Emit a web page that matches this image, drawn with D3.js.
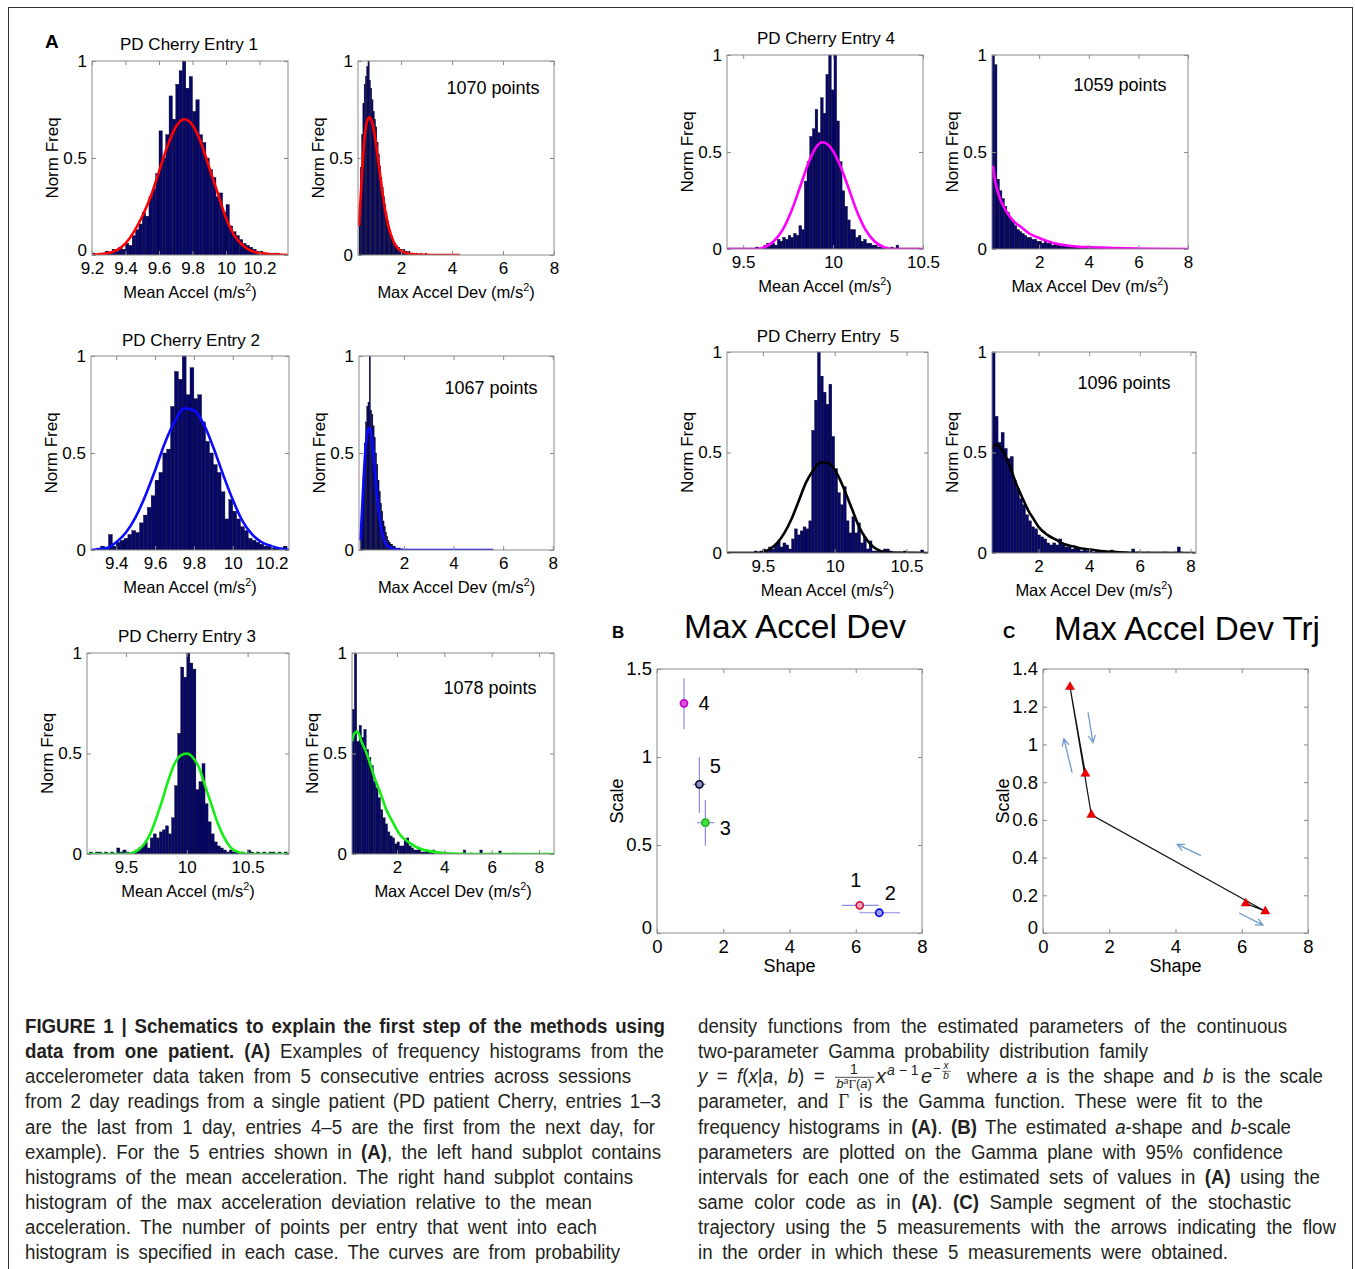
<!DOCTYPE html>
<html>
<head>
<meta charset="utf-8">
<script src="https://cdn.jsdelivr.net/npm/d3@7"></script>
<style>
  body { margin: 0; background: #fff; }
  svg text { font-family: "Liberation Sans", Arial, sans-serif; }
</style>
</head>
<body>
<svg id="fig" width="1355" height="1269"></svg>
<script>
// ---------- data ----------
// histograms: normalised frequency per bin, bin start + bin width
const e1MeanStart = 9.20, e1MeanStep = 0.02;
const e1MeanFreq = [0.01,0,0.01,0.01,0.02,0.01,0.03,0.02,0.04,0.03,
  0.06,0.05,0.10,0.13,0.16,0.22,0.20,0.30,0.34,0.42,
  0.64,0.50,0.62,0.82,0.70,0.88,0.95,1.00,0.86,0.92,
  0.74,0.80,0.62,0.58,0.50,0.44,0.40,0.30,0.32,0.22,
  0.26,0.15,0.12,0.10,0.08,0.06,0.05,0.04,0.03,0.02,
  0.02,0.01,0.01,0,0.01,0.01];
const e1DevStart = 0.35, e1DevStep = 0.05;
const e1DevFreq = [0.25,0.45,0.62,0.78,0.88,0.92,0.97,1.00,0.90,0.86,
  0.80,0.74,0.70,0.66,0.58,0.52,0.46,0.40,0.35,0.30,
  0.26,0.22,0.18,0.15,0.12,0.10,0.08,0.07,0.06,0.05,
  0.04,0.04,0.03,0.03,0.02,0.03,0.02,0.02,0.01,0.02,
  0.01,0.01,0.01,0.01,0,0.01,0,0,0.01,0,0,0,0.01];
const e2MeanStart = 9.30, e2MeanStep = 0.02;
const e2MeanFreq = [0.01,0.02,0.01,0.08,0.02,0.04,0.05,0.06,0.08,0.10,
  0.09,0.14,0.18,0.22,0.28,0.36,0.40,0.50,0.52,0.74,
  0.92,0.88,1.00,0.80,0.94,0.78,0.80,0.66,0.56,0.50,
  0.44,0.40,0.30,0.16,0.26,0.20,0.16,0.12,0.10,0.06,
  0.05,0.04,0.03,0.02,0.02,0.01,0.01,0,0.02];
const e2DevStart = 0.25, e2DevStep = 0.05;
const e2DevFreq = [0.05,0.20,0.38,0.55,0.66,0.74,0.76,1.00,0.72,0.70,
  0.64,0.58,0.50,0.44,0.36,0.30,0.24,0.20,0.15,0.12,
  0.09,0.07,0.05,0.04,0.03,0.03,0.02,0.02,0.01,0.01,
  0.01,0.01,0.005,0.005,0.005,0.005,0,0.005,0,0.003,0,0.003,0,0,0.003];
const e3MeanStart = 9.20, e3MeanStep = 0.025;
const e3MeanFreq = [0.01,0,0.01,0.01,0,0.01,0,0.01,0,0.03,
  0.01,0.02,0.01,0,0.01,0.02,0.03,0.04,0.06,0.03,
  0.08,0.10,0.08,0.11,0.12,0.14,0.10,0.18,0.34,0.60,
  0.93,0.88,1.00,0.95,0.92,0.32,0.36,0.45,0.25,0.16,
  0.10,0.06,0.04,0.03,0.02,0.01,0.02,0.01,0.01,0,
  0.01,0,0.02,0.01,0,0.01,0,0.01,0,0.01,
  0.01,0,0.01,0,0.01];
const e3DevStart = 0.10, e3DevStep = 0.1;
const e3DevFreq = [0.72,1.00,0.56,0.64,0.58,0.62,0.52,0.48,0.44,0.36,
  0.33,0.28,0.22,0.18,0.15,0.11,0.09,0.08,0.05,0.06,
  0.04,0.04,0.07,0.08,0.04,0.03,0.02,0.02,0.03,0.01,
  0.01,0.02,0.01,0.01,0.02,0,0.01,0.01,0,0.01,
  0,0.005,0,0.005,0,0,0.005,0.02,0,0,
  0.005,0,0,0,0.02,0,0,0,0.005,0,
  0,0,0.015,0,0,0,0,0,0.005,0];
const e4MeanStart = 9.42, e4MeanStep = 0.015;
const e4MeanFreq = [0.005,0.005,0.005,0.005,0.005,0.005,0.005,0.005,0.005,0.005,0.01,0.005,
  0.01,0.02,0.03,0.02,0.03,0.02,0.05,0.04,0.06,0.05,
  0.07,0.06,0.08,0.07,0.12,0.10,0.35,0.45,0.58,0.62,
  0.72,0.60,0.78,0.70,0.90,1.00,0.82,1.00,0.66,0.45,
  0.30,0.22,0.15,0.10,0.10,0.06,0.07,0.04,0.05,0.03,
  0.03,0.02,0.02,0.01,0.02,0.01,0.01,0.005,0.01,0.005,
  0.02,0.005,0.005,0.005,0.005,0.005,0.005,0.005,0.005];
const e4DevStart = 0.10, e4DevStep = 0.1;
const e4DevFreq = [1.00,0.95,0.36,0.30,0.26,0.22,0.19,0.16,0.14,0.12,
  0.10,0.09,0.08,0.07,0.06,0.06,0.05,0.05,0.04,0.04,
  0.03,0.04,0.03,0.03,0.02,0.03,0.02,0.02,0.02,0.02,
  0.015,0.015,0.01,0.015,0.01,0.01,0.01,0.01,0.008,0.01,
  0.005,0.008,0.005,0.005,0.006,0.004,0.005,0.004,0.004,0.003,
  0.004,0.003,0.003,0.003,0.002,0.003,0.002,0.003,0.002,0.002,
  0.004,0.002,0.002,0.002,0.001,0.002,0.001,0.002,0.001,0.001,
  0.001,0.001,0.001,0.001,0.001,0.001,0.001,0.001,0.001];
const e5MeanStart = 9.26, e5MeanStep = 0.02;
const e5MeanFreq = [0.005,0.005,0.005,0.005,0.005,0.005,0.005,0.005,0.005,0.01,
  0.005,0.01,0.02,0.01,0.03,0.02,0.04,0.06,0.03,0.05,
  0.04,0.02,0.07,0.12,0.09,0.11,0.13,0.12,0.16,0.61,
  0.76,1.00,0.88,0.80,0.74,0.84,0.58,0.42,0.30,0.24,
  0.33,0.16,0.10,0.18,0.10,0.15,0.05,0.08,0.02,0.06,
  0.01,0.01,0.01,0.005,0.02,0.02,0.01,0.005,0.005,0.005,
  0.005,0.01,0.005,0.005,0.005,0.005,0.005,0.015];
const e5DevStart = 0.16, e5DevStep = 0.12;
const e5DevFreq = [1.00,0.68,0.55,0.60,0.52,0.47,0.48,0.36,0.32,0.27,
  0.24,0.19,0.16,0.13,0.12,0.09,0.08,0.07,0.05,0.04,
  0.05,0.04,0.07,0.04,0.03,0.03,0.02,0.03,0.02,0.01,
  0.02,0.01,0.01,0.005,0.01,0.005,0.005,0.005,0.005,0.015,
  0.005,0,0.005,0,0.005,0,0.02,0,0.005,0,
  0,0.005,0,0,0,0,0.005,0.005,0,0,0.005,0.03,0.005];

// fitted curves as [x, normFreq]
const e1MeanFit = [[9.2,0],[9.3,0.01],[9.4,0.06],[9.5,0.2],[9.55,0.3],[9.6,0.43],[9.65,0.56],[9.7,0.66],[9.75,0.7],[9.8,0.67],[9.85,0.58],[9.9,0.45],[9.95,0.32],[10.0,0.19],[10.05,0.1],[10.1,0.05],[10.2,0.01],[10.37,0]];
const e1DevFit = [[0.35,0.15],[0.45,0.38],[0.55,0.58],[0.65,0.68],[0.75,0.71],[0.85,0.69],[0.95,0.63],[1.05,0.54],[1.15,0.44],[1.25,0.34],[1.35,0.25],[1.5,0.15],[1.7,0.07],[1.9,0.03],[2.2,0.01],[2.6,0.002],[3.2,0],[4.3,0]];
const e2MeanFit = [[9.27,0],[9.35,0.01],[9.4,0.04],[9.45,0.09],[9.5,0.17],[9.55,0.28],[9.6,0.41],[9.65,0.55],[9.7,0.66],[9.75,0.73],[9.8,0.72],[9.85,0.65],[9.9,0.53],[9.95,0.39],[10.0,0.26],[10.05,0.15],[10.1,0.08],[10.15,0.04],[10.2,0.02],[10.29,0]];
const e2DevFit = [[0.25,0.05],[0.35,0.3],[0.45,0.52],[0.55,0.62],[0.62,0.63],[0.7,0.58],[0.8,0.45],[0.9,0.3],[1.0,0.18],[1.1,0.1],[1.2,0.05],[1.35,0.02],[1.6,0.005],[2.0,0],[5.6,0]];
const e3MeanFit = [[9.18,0],[9.5,0],[9.55,0.005],[9.6,0.02],[9.65,0.05],[9.7,0.1],[9.75,0.18],[9.8,0.27],[9.85,0.37],[9.9,0.45],[9.95,0.49],[10.0,0.5],[10.05,0.48],[10.1,0.43],[10.15,0.34],[10.2,0.25],[10.25,0.16],[10.3,0.09],[10.35,0.04],[10.4,0.015],[10.45,0.005],[10.5,0],[10.84,0]];
const e3DevFit = [[0.1,0.56],[0.2,0.6],[0.32,0.61],[0.5,0.56],[0.75,0.49],[1.05,0.38],[1.34,0.29],[1.55,0.22],[1.77,0.17],[2.1,0.1],[2.5,0.058],[2.9,0.03],[3.23,0.018],[3.7,0.008],[4.3,0.002],[5,0],[8.63,0]];
const e4MeanFit = [[9.41,0],[9.58,0],[9.62,0.01],[9.67,0.04],[9.72,0.1],[9.77,0.2],[9.82,0.33],[9.87,0.46],[9.91,0.53],[9.94,0.55],[9.98,0.53],[10.03,0.45],[10.08,0.33],[10.13,0.2],[10.18,0.1],[10.23,0.04],[10.28,0.01],[10.33,0],[10.5,0]];
const e4DevFit = [[0.14,0.43],[0.2,0.37],[0.3,0.31],[0.45,0.25],[0.61,0.21],[0.8,0.17],[1.0,0.14],[1.31,0.11],[1.6,0.08],[2.0,0.057],[2.4,0.038],[2.7,0.027],[3.2,0.017],[3.6,0.012],[4.1,0.009],[5.0,0.005],[5.5,0.003],[6.5,0.001],[8,0]];
const e5MeanFit = [[9.25,0],[9.45,0],[9.5,0.005],[9.55,0.02],[9.6,0.05],[9.65,0.1],[9.7,0.17],[9.75,0.26],[9.8,0.35],[9.85,0.41],[9.9,0.45],[9.93,0.45],[9.97,0.44],[10.02,0.39],[10.07,0.31],[10.12,0.22],[10.17,0.13],[10.22,0.07],[10.27,0.03],[10.32,0.01],[10.37,0.002],[10.65,0]];
const e5DevFit = [[0.16,0.52],[0.3,0.54],[0.45,0.53],[0.66,0.49],[0.9,0.42],[1.1,0.35],[1.34,0.28],[1.6,0.21],[1.8,0.17],[2.0,0.13],[2.35,0.09],[2.69,0.066],[3.0,0.045],[3.36,0.033],[3.7,0.022],[4.04,0.017],[4.6,0.008],[5.2,0.004],[6,0.001],[8.2,0]];

const entryNames = ["PD Cherry Entry 1","PD Cherry Entry 2","PD Cherry Entry 3","PD Cherry Entry 4","PD Cherry Entry  5"];
const pointCounts = [1070, 1067, 1078, 1059, 1096];
const histTicks = [0, 0.5, 1];

// gamma parameter estimates per entry (panel B / C)
const entryIds = ["1","2","3","4","5"];
const shapeVals = [6.12, 6.71, 1.46, 0.815, 1.28];
const scaleVals = [0.157, 0.115, 0.627, 1.305, 0.845];
const shapeLo = [5.58, 6.11, 1.21, 0.815, 1.08];
const shapeHi = [6.69, 7.34, 1.72, 0.815, 1.48];
const scaleLo = [0.157, 0.115, 0.496, 1.157, 0.683];
const scaleHi = [0.157, 0.115, 0.756, 1.447, 0.998];
const gammaXTicks = [0, 2, 4, 6, 8];
const scaleTicksB = [0, 0.5, 1, 1.5];
const scaleTicksC = [0, 0.2, 0.4, 0.6, 0.8, 1, 1.2, 1.4];
// flow arrows in panel C: [shapeFrom, scaleFrom, shapeTo, scaleTo]
const flowArrows = [[1.36,1.17,1.51,1.01],[0.88,0.85,0.63,1.03],[4.77,0.41,4.05,0.47],[5.92,0.106,6.64,0.042]];

// ---------- drawing ----------
const svg = d3.select("#fig");
const FONT = '"Liberation Sans", Arial, sans-serif';
const BOX = "#8a8a8a";
const NAVY = "#07076a";

svg.append("rect").attr("x", 8.5).attr("y", 7.5).attr("width", 1344).attr("height", 1280)
  .attr("fill", "none").attr("stroke", "#333").attr("stroke-width", 1);

let clipN = 0;
function frame(box, x, y, xTicks, yTicks, fs) {
  const [l, t, r, b] = box;
  const g = svg.append("g");
  g.append("rect").attr("x", l).attr("y", t).attr("width", r - l).attr("height", b - t)
    .attr("fill", "none").attr("stroke", BOX);
  const fmt = d => String(d);
  const mk = (ax, tr, lab, pad) => {
    const a = g.append("g").attr("transform", tr)
      .call(ax.tickSizeInner(-4).tickSizeOuter(0).tickPadding(pad).tickFormat(lab ? fmt : () => ""));
    a.select(".domain").remove();
    a.selectAll("line").attr("stroke", BOX);
    a.attr("font-size", fs).attr("font-family", FONT);
    a.selectAll("text").attr("fill", "#000");
    return a;
  };
  mk(d3.axisBottom(x).tickValues(xTicks), `translate(0,${b})`, true, 7);
  mk(d3.axisTop(x).tickValues(xTicks), `translate(0,${t})`, false, 0);
  const left = mk(d3.axisLeft(y).tickValues(yTicks), `translate(${l},0)`, true, 5);
  // first x tick sitting on the corner: lift the "0" a little so both stay readable
  if (Math.abs(x(xTicks[0]) - l) < 3) left.selectAll("text").filter(d => d === 0).attr("dy", "0.05em");
  mk(d3.axisRight(y).tickValues(yTicks), `translate(${r},0)`, false, 0);
}

function xLabel(cx, yb, main, fs) {
  const t = svg.append("text").attr("x", cx).attr("y", yb).attr("text-anchor", "middle")
    .attr("font-size", fs).attr("fill", "#000");
  t.append("tspan").text(main + " (m/s");
  t.append("tspan").attr("font-size", fs * 0.65).attr("dy", -7).text("2");
  t.append("tspan").attr("dy", 7).text(")");
}

function yLabel(x, cy, txt, fs) {
  svg.append("text").attr("transform", `translate(${x},${cy}) rotate(-90)`)
    .attr("text-anchor", "middle").attr("dy", "0.35em").attr("font-size", fs).attr("fill", "#000").text(txt);
}

function histPanel(p) {
  const [l, t, r, b] = p.box;
  const x = d3.scaleLinear().domain(p.dom).range([l, r]);
  const y = d3.scaleLinear().domain([0, 1]).range([b, t]);
  const id = "clip" + (clipN++);
  svg.append("clipPath").attr("id", id).append("rect")
    .attr("x", l).attr("y", t - 2).attr("width", r - l).attr("height", b - t + 2);
  const g = svg.append("g").attr("clip-path", `url(#${id})`);
  const bins = p.freq.map((v, i) => ({ lo: p.start + i * p.step, v }));
  g.selectAll("rect.bar").data(bins).join("rect")
    .attr("x", d => x(d.lo))
    .attr("y", d => y(d.v))
    .attr("width", d => Math.max(0.6, x(d.lo + p.step) - x(d.lo)))
    .attr("height", d => Math.max(0.8, b - y(d.v)))
    .attr("fill", NAVY).attr("stroke", "#000018").attr("stroke-width", 0.35);
  const line = d3.line().x(d => x(d[0])).y(d => y(d[1])).curve(d3.curveMonotoneX);
  g.append("path").datum(p.fit).attr("d", line)
    .attr("fill", "none").attr("stroke", p.color).attr("stroke-width", 2.6);
  frame(p.box, x, y, p.ticks, histTicks, 17);
  yLabel(l - 40, (t + b) / 2, "Norm Freq", 17);
  xLabel((l + r) / 2, b + 43, p.xlab, 16.5);
}

const fitColors = ["#ff0000", "#0a0aff", "#14ee14", "#ff00ff", "#000000"];
const layout = [
  { L: [92, 61, 288, 255], Ld: [9.2, 10.37], Lt: [9.2, 9.4, 9.6, 9.8, 10, 10.2], R: [358, 61, 554, 255], Rd: [0.31, 8], title: [189, 50], note: [493, 94] },
  { L: [91, 356, 289, 550], Ld: [9.27, 10.29], Lt: [9.4, 9.6, 9.8, 10, 10.2], R: [359, 356, 554, 550], Rd: [0.19, 8.05], title: [191, 346], note: [491, 394] },
  { L: [87, 653, 289, 854], Ld: [9.18, 10.84], Lt: [9.5, 10, 10.5], R: [352, 653, 554, 854], Rd: [0.1, 8.63], title: [187, 642], note: [490, 694] },
  { L: [727, 55, 923, 249], Ld: [9.41, 10.5], Lt: [9.5, 10, 10.5], R: [992, 55, 1188, 249], Rd: [0.1, 8], title: [826, 44], note: [1120, 91] },
  { L: [727, 352, 928, 553], Ld: [9.25, 10.65], Lt: [9.5, 10, 10.5], R: [992, 352, 1196, 553], Rd: [0.16, 8.22], title: [828, 342], note: [1124, 389] }
];
const meanData = [
  [e1MeanStart, e1MeanStep, e1MeanFreq, e1MeanFit],
  [e2MeanStart, e2MeanStep, e2MeanFreq, e2MeanFit],
  [e3MeanStart, e3MeanStep, e3MeanFreq, e3MeanFit],
  [e4MeanStart, e4MeanStep, e4MeanFreq, e4MeanFit],
  [e5MeanStart, e5MeanStep, e5MeanFreq, e5MeanFit]
];
const devData = [
  [e1DevStart, e1DevStep, e1DevFreq, e1DevFit],
  [e2DevStart, e2DevStep, e2DevFreq, e2DevFit],
  [e3DevStart, e3DevStep, e3DevFreq, e3DevFit],
  [e4DevStart, e4DevStep, e4DevFreq, e4DevFit],
  [e5DevStart, e5DevStep, e5DevFreq, e5DevFit]
];

layout.forEach((lay, i) => {
  const [ms, mst, mf, mfit] = meanData[i];
  const [ds, dst, df, dfit] = devData[i];
  histPanel({ box: lay.L, dom: lay.Ld, ticks: lay.Lt, start: ms, step: mst, freq: mf, fit: mfit, color: fitColors[i], xlab: "Mean Accel" });
  histPanel({ box: lay.R, dom: lay.Rd, ticks: [2, 4, 6, 8], start: ds, step: dst, freq: df, fit: dfit, color: fitColors[i], xlab: "Max Accel Dev" });
  svg.append("text").attr("x", lay.title[0]).attr("y", lay.title[1]).attr("text-anchor", "middle")
    .attr("font-size", 17).attr("fill", "#000").attr("xml:space", "preserve").text(entryNames[i]);
  svg.append("text").attr("x", lay.note[0]).attr("y", lay.note[1]).attr("text-anchor", "middle")
    .attr("font-size", 18).attr("fill", "#000").text(pointCounts[i] + " points");
});

// panel letters
svg.append("text").attr("x", 45).attr("y", 48).attr("font-size", 19).attr("font-weight", "bold").text("A");
svg.append("text").attr("x", 612).attr("y", 638).attr("font-size", 17).attr("font-weight", "bold").text("B");
svg.append("text").attr("x", 1003).attr("y", 638).attr("font-size", 17).attr("font-weight", "bold").text("C");

// panel titles (Calibri-like)
svg.append("text").attr("x", 684).attr("y", 638).attr("font-family", "Lato, 'Open Sans', sans-serif")
  .attr("font-size", 33).attr("textLength", 222).attr("lengthAdjust", "spacingAndGlyphs").text("Max Accel Dev");
svg.append("text").attr("x", 1054).attr("y", 640).attr("font-family", "Lato, 'Open Sans', sans-serif")
  .attr("font-size", 33).attr("textLength", 266).attr("lengthAdjust", "spacingAndGlyphs").text("Max Accel Dev Trj");

// panel B: estimates with 95% intervals
{
  const box = [657, 669, 922, 933];
  const x = d3.scaleLinear().domain([0, 8]).range([box[0], box[2]]);
  const y = d3.scaleLinear().domain([0, 1.5]).range([box[3], box[1]]);
  const g = svg.append("g");
  const idx = d3.range(entryIds.length);
  g.selectAll("line.ex").data(idx).join("line")
    .attr("x1", i => x(shapeLo[i])).attr("x2", i => x(shapeHi[i]))
    .attr("y1", i => y(scaleVals[i])).attr("y2", i => y(scaleVals[i]))
    .attr("stroke", "#8c8ce2").attr("stroke-width", 1.2);
  g.selectAll("line.ey").data(idx).join("line")
    .attr("x1", i => x(shapeVals[i])).attr("x2", i => x(shapeVals[i]))
    .attr("y1", i => y(scaleLo[i])).attr("y2", i => y(scaleHi[i]))
    .attr("stroke", "#8c8ce2").attr("stroke-width", 1.2);
  const ring = ["#c8103c", "#0000ee", "#20b020", "#c000c0", "#000030"];
  const fill = ["#f0a0b4", "#a0a0ff", "#40e040", "#e050e0", "#9090b0"];
  g.selectAll("circle").data(idx).join("circle")
    .attr("cx", i => x(shapeVals[i])).attr("cy", i => y(scaleVals[i])).attr("r", 3.6)
    .attr("fill", i => fill[i]).attr("stroke", i => ring[i]).attr("stroke-width", 1.6);
  const off = [[-4, -25], [11, -20], [20, 5], [20, 0], [16, -18]];
  g.selectAll("text.lab").data(idx).join("text")
    .attr("x", i => x(shapeVals[i]) + off[i][0]).attr("y", i => y(scaleVals[i]) + off[i][1])
    .attr("dy", "0.35em").attr("text-anchor", "middle")
    .attr("font-family", "Lato, sans-serif").attr("font-size", 20).attr("fill", "#000")
    .text(i => entryIds[i]);
  frame(box, x, y, gammaXTicks, scaleTicksB, 18.5);
  yLabel(box[0] - 40, (box[1] + box[3]) / 2, "Scale", 18);
  svg.append("text").attr("x", (box[0] + box[2]) / 2).attr("y", box[3] + 39).attr("text-anchor", "middle")
    .attr("font-size", 18).attr("fill", "#000").text("Shape");
}

// panel C: trajectory in measurement order
{
  const box = [1043, 669, 1308, 933];
  const x = d3.scaleLinear().domain([0, 8]).range([box[0], box[2]]);
  const y = d3.scaleLinear().domain([0, 1.4]).range([box[3], box[1]]);
  const g = svg.append("g");
  const pts = shapeVals.map((s, i) => [s, scaleVals[i]]);
  g.append("path").datum(pts)
    .attr("d", d3.line().x(d => x(d[0])).y(d => y(d[1])))
    .attr("fill", "none").attr("stroke", "#111").attr("stroke-width", 1.2);
  g.selectAll("path.tri").data(pts).join("path")
    .attr("transform", d => `translate(${x(d[0])},${y(d[1])})`)
    .attr("d", d3.symbol(d3.symbolTriangle, 36))
    .attr("fill", "#ee0000").attr("stroke", "#c00000").attr("stroke-width", 0.5);
  flowArrows.forEach(a => {
    const x1 = x(a[0]), y1 = y(a[1]), x2 = x(a[2]), y2 = y(a[3]);
    const ang = Math.atan2(y2 - y1, x2 - x1), h = 8, s = 0.45;
    const p = `M${x1},${y1}L${x2},${y2}M${x2 - h * Math.cos(ang - s)},${y2 - h * Math.sin(ang - s)}L${x2},${y2}L${x2 - h * Math.cos(ang + s)},${y2 - h * Math.sin(ang + s)}`;
    g.append("path").attr("d", p).attr("fill", "none").attr("stroke", "#6f9ccc").attr("stroke-width", 1.3);
  });
  frame(box, x, y, gammaXTicks, scaleTicksC, 18.5);
  yLabel(box[0] - 40, (box[1] + box[3]) / 2, "Scale", 18);
  svg.append("text").attr("x", (box[0] + box[2]) / 2).attr("y", box[3] + 39).attr("text-anchor", "middle")
    .attr("font-size", 18).attr("fill", "#000").text("Shape");
}

// ---------- caption (condensed: squeeze a regular face horizontally) ----------
const CAPF = '"Liberation Sans", Arial, sans-serif';
const SQ = 0.89, CAPFS = 21;
function capLine(x, yb, segs, endX) {
  const g = svg.append("g").attr("transform", `translate(${x},${yb}) scale(${SQ},1)`);
  const t = g.append("text").attr("x", 0).attr("y", 0).attr("font-family", CAPF)
    .attr("font-size", CAPFS).attr("fill", "#231f20").attr("xml:space", "preserve");
  segs.forEach(([s, st]) => {
    const ts = t.append("tspan").text(s);
    if (st === "b") ts.attr("font-weight", "bold");
    if (st === "i") ts.attr("font-style", "italic");
    if (st === "g") ts.attr("font-family", '"Liberation Serif", serif');
  });
  const w = t.node().getComputedTextLength();
  const n = segs.map(s => s[0]).join("").split(" ").length - 1;
  if (endX && n) t.attr("word-spacing", ((endX - x) / SQ - w) / n);
  return t;
}
const leftLines = [
  [[["FIGURE 1 | Schematics to explain the first step of the methods using", "b"]], 665],
  [[["data from one patient. (A)", "b"], [" Examples of frequency histograms from the", ""]], 664],
  [[["accelerometer data taken from 5 consecutive entries across sessions", ""]], 631],
  [[["from 2 day readings from a single patient (PD patient Cherry, entries 1–3", ""]], 661],
  [[["are the last from 1 day, entries 4–5 are the first from the next day, for", ""]], 655],
  [[["example). For the 5 entries shown in ", ""], ["(A)", "b"], [", the left hand subplot contains", ""]], 661],
  [[["histograms of the mean acceleration. The right hand subplot contains", ""]], 633],
  [[["histogram of the max acceleration deviation relative to the mean", ""]], 592],
  [[["acceleration. The number of points per entry that went into each", ""]], 597],
  [[["histogram is specified in each case. The curves are from probability", ""]], 620]
];
const rightLines = [
  [[["density functions from the estimated parameters of the continuous", ""]], 1287],
  [[["two-parameter Gamma probability distribution family", ""]], 1148],
  null,
  [[["parameter, and ", ""], ["Γ", "g"], [" is the Gamma function. These were fit to the", ""]], 1263],
  [[["frequency histograms in ", ""], ["(A)", "b"], [". ", ""], ["(B)", "b"], [" The estimated ", ""], ["a", "i"], ["-shape and ", ""], ["b", "i"], ["-scale", ""]], 1291],
  [[["parameters are plotted on the Gamma plane with 95% confidence", ""]], 1283],
  [[["intervals for each one of the estimated sets of values in ", ""], ["(A)", "b"], [" using the", ""]], 1320],
  [[["same color code as in ", ""], ["(A)", "b"], [". ", ""], ["(C)", "b"], [" Sample segment of the stochastic", ""]], 1291],
  [[["trajectory using the 5 measurements with the arrows indicating the flow", ""]], 1336],
  [[["in the order in which these 5 measurements were obtained.", ""]], 1228]
];
const base0 = 1033, lead = 25.15;
leftLines.forEach((ln, i) => capLine(25, base0 + i * lead, ln[0], ln[1]));
rightLines.forEach((ln, i) => { if (ln) capLine(698, base0 + i * lead, ln[0], ln[1]); });

// formula line
{
  const yb = base0 + 2 * lead;
  capLine(698, yb, [["y", "i"], [" = ", ""], ["f", "i"], ["(", ""], ["x", "i"], ["|", ""], ["a", "i"], [", ", ""], ["b", "i"], [") = ", ""]], 834);
  const f = svg.append("g").attr("font-family", CAPF).attr("fill", "#231f20");
  f.append("text").attr("x", 854).attr("y", yb - 9).attr("font-size", 14).attr("text-anchor", "middle").text("1");
  f.append("line").attr("x1", 835).attr("x2", 874).attr("y1", yb - 6).attr("y2", yb - 6).attr("stroke", "#231f20").attr("stroke-width", 0.8);
  const den = f.append("text").attr("x", 854).attr("y", yb + 5).attr("font-size", 13).attr("text-anchor", "middle");
  den.append("tspan").attr("font-style", "italic").text("b");
  den.append("tspan").attr("font-style", "italic").attr("font-size", 9).attr("dy", -4).text("a");
  den.append("tspan").attr("font-family", '"Liberation Serif", serif').attr("dy", 4).text("Γ");
  den.append("tspan").text("(");
  den.append("tspan").attr("font-style", "italic").text("a");
  den.append("tspan").text(")");
  f.append("text").attr("x", 876).attr("y", yb).attr("font-size", 20).attr("font-style", "italic").text("x");
  f.append("text").attr("x", 887).attr("y", yb - 8).attr("font-size", 14).attr("xml:space", "preserve")
    .html('<tspan font-style="italic">a</tspan> − 1');
  f.append("text").attr("x", 921).attr("y", yb).attr("font-size", 20).attr("font-style", "italic").text("e");
  f.append("text").attr("x", 933).attr("y", yb - 10).attr("font-size", 13).text("−");
  f.append("text").attr("x", 946).attr("y", yb - 14).attr("font-size", 10).attr("font-style", "italic").attr("text-anchor", "middle").text("x");
  f.append("line").attr("x1", 942).attr("x2", 951).attr("y1", yb - 12).attr("y2", yb - 12).attr("stroke", "#231f20").attr("stroke-width", 0.6);
  f.append("text").attr("x", 946).attr("y", yb - 4).attr("font-size", 10).attr("font-style", "italic").attr("text-anchor", "middle").text("b");
  capLine(967, yb, [["where ", ""], ["a", "i"], [" is the shape and ", ""], ["b", "i"], [" is the scale", ""]], 1323);
}
</script>
</body>
</html>
